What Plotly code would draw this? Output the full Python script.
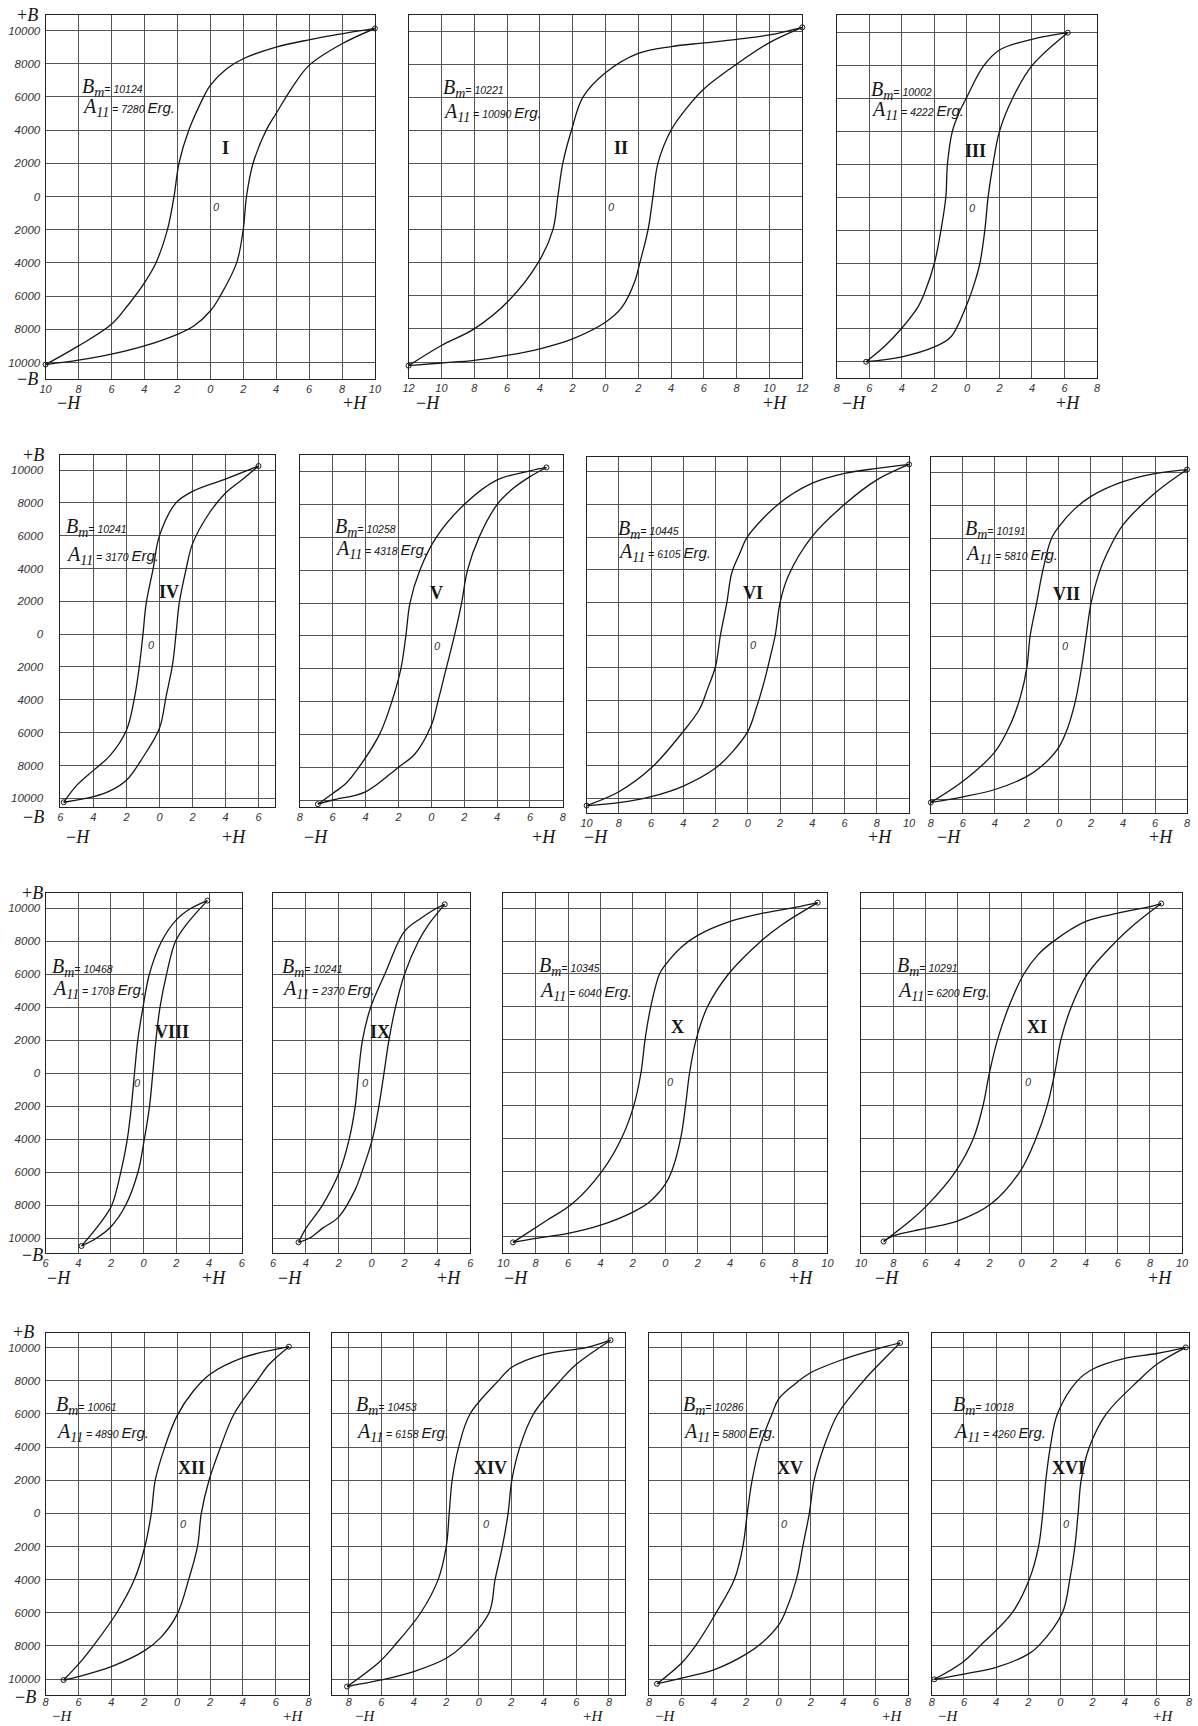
import plotly.graph_objects as go

W, HGT = 1198, 1726

# ---------------- data ----------------
PANEL_NAMES = ["I", "II", "III", "IV", "V", "VI", "VII", "VIII", "IX", "X", "XI", "XII", "XIV", "XV", "XVI"]
BM_VALUES = [10124, 10221, 10002, 10241, 10258, 10445, 10191, 10468, 10241, 10345, 10291, 10061, 10453, 10286, 10018]
A11_VALUES = [7280, 10090, 4222, 3170, 4318, 6105, 5810, 1703, 2370, 6040, 6200, 4890, 6158, 5800, 4260]
H_TICK_LIMITS = [10, 12, 8, 6, 8, 10, 8, 6, 6, 10, 10, 8, 8, 8, 8]
B_TICKS = [10000, 8000, 6000, 4000, 2000, 0, -2000, -4000, -6000, -8000, -10000]

I_UP_H = [10, 8, 6, 4, 2, 1, 0, -0.4, -1.3, -1.9, -2.2, -2.6, -3.3, -4, -5, -6, -8, -10]
I_UP_B = [10124, 9800, 9440, 9000, 8300, 7700, 6700, 6000, 4000, 2000, 0, -2000, -4000, -5200, -6550, -7700, -9000, -10124]
I_LO_H = [-10, -8, -6, -4, -2, -1, 0, 0.6, 1.6, 2.0, 2.2, 2.6, 3.4, 4, 5, 6, 8, 10]
I_LO_B = [-10124, -9860, -9500, -9000, -8300, -7800, -6900, -6000, -4000, -2000, 0, 2000, 4000, 5000, 6600, 7900, 9200, 10124]

II_UP_H = [12, 10, 8, 6, 4, 2, 0, -1.37, -2.07, -2.6, -2.9, -3.2, -4.1, -5.9, -8, -10, -12]
II_UP_B = [10221, 9760, 9500, 9280, 9060, 8650, 7480, 6000, 4000, 2000, 0, -2000, -4000, -6300, -8000, -9000, -10221]
II_LO_H = [-12, -10, -8, -6, -4, -2, 0, 1, 1.8, 2.1, 2.6, 2.9, 3.2, 4, 5, 6, 8, 10, 12]
II_LO_B = [-10221, -10060, -9900, -9600, -9200, -8600, -7600, -6700, -5100, -4000, -2000, 0, 2000, 4000, 5400, 6500, 8000, 9300, 10221]

III_UP_H = [6.2, 4, 2, 1, 0, -0.5, -0.9, -1.2, -1.3, -1.6, -2, -2.6, -3, -4, -5, -6.2]
III_UP_B = [10002, 9600, 8950, 7950, 6100, 5100, 4000, 2000, 0, -2000, -4000, -5800, -6650, -7950, -9000, -10002]
III_LO_H = [-6.2, -4, -2, -1, 0, 0.5, 0.8, 1.1, 1.3, 1.6, 2, 2.8, 4, 6.2]
III_LO_B = [-10002, -9700, -9100, -8500, -6500, -5100, -4000, -2000, 0, 2000, 4000, 6000, 8000, 10002]

IV_UP_H = [6, 4, 2, 1, 0, -0.4, -0.8, -1, -1.2, -1.5, -2, -3, -4, -5, -5.8]
IV_UP_B = [10241, 9450, 8700, 8000, 6000, 3900, 1900, 0, -1800, -3800, -5850, -7400, -8300, -9200, -10241]
IV_LO_H = [-5.8, -4, -3, -2, -1, 0, 0.4, 0.8, 1, 1.2, 1.6, 2, 3, 4, 5, 6]
IV_LO_B = [-10241, -9900, -9550, -8900, -7500, -5730, -3800, -1800, 0, 1900, 3900, 5500, 7350, 8600, 9400, 10241]

V_UP_H = [7, 6, 4, 2, 0.3, -0.7, -1.3, -1.55, -1.85, -2.4, -3.15, -4.4, -5.2, -6, -6.9]
V_UP_B = [10258, 10050, 9500, 8000, 6000, 4000, 2000, 0, -2000, -4000, -6000, -8000, -9000, -9600, -10258]
V_LO_H = [-6.9, -6, -4, -2, -1, 0, 0.4, 0.9, 1.4, 1.84, 2.2, 2.9, 4, 5, 6, 7]
V_LO_B = [-10258, -10000, -9500, -8000, -7200, -5450, -4000, -2000, 0, 2000, 4000, 6000, 8000, 9000, 9700, 10258]

VI_UP_H = [10, 8, 6, 4, 2, 0, -0.5, -1, -1.3, -1.7, -2, -2.5, -3, -4, -6, -8, -10]
VI_UP_B = [10445, 10200, 9900, 9300, 8100, 6050, 5000, 3800, 2000, 0, -1900, -3300, -4550, -5900, -8150, -9600, -10445]
VI_LO_H = [-10, -8, -6, -4, -2, -1, 0, 0.5, 1, 1.4, 1.7, 2, 2.5, 4, 6, 8, 10]
VI_LO_B = [-10445, -10270, -9900, -9250, -8150, -7200, -5900, -4550, -2900, -1300, 0, 2000, 3600, 6050, 8000, 9500, 10445]

VII_UP_H = [8, 6, 4, 2, 1, 0, -0.5, -1, -1.4, -1.8, -2, -2.4, -3, -4, -6, -8]
VII_UP_B = [10191, 9950, 9450, 8550, 7800, 6700, 5900, 4050, 2000, 0, -1900, -3700, -5350, -7100, -8900, -10191]
VII_LO_H = [-8, -6, -4, -2, -1, 0, 0.5, 1, 1.4, 1.7, 2, 2.5, 3, 4, 6, 8]
VII_LO_B = [-10191, -9850, -9400, -8600, -7900, -6800, -5750, -4100, -2000, 0, 2000, 3850, 5050, 6800, 8750, 10191]

VIII_UP_H = [3.9, 2.9, 2, 1.1, 0.35, -0.04, -0.36, -0.56, -0.75, -1.0, -1.4, -1.95, -2.6, -3.8]
VIII_UP_B = [10468, 10000, 9300, 8000, 6000, 4000, 2000, 0, -2000, -4000, -6000, -8000, -9000, -10468]
VIII_LO_H = [-3.8, -2.9, -2, -1.1, -0.35, 0.04, 0.36, 0.56, 0.75, 1.0, 1.4, 1.95, 2.6, 3.9]
VIII_LO_B = [-10468, -10000, -9300, -8000, -6000, -4000, -2000, 0, 2000, 4000, 6000, 8000, 9000, 10468]

IX_UP_H = [4.45, 3.95, 3, 2, 0.8, -0.06, -0.56, -0.8, -1.0, -1.37, -1.97, -3.0, -4.0, -4.45]
IX_UP_B = [10241, 10000, 9400, 8600, 6000, 4000, 2000, 0, -2000, -4000, -6000, -8000, -9400, -10241]
IX_LO_H = [-4.45, -3.8, -3, -2, -1, -0.6, 0.04, 0.44, 0.75, 1.05, 1.45, 2.0, 2.85, 3.45, 4.45]
IX_LO_B = [-10241, -10000, -9400, -8700, -7050, -6000, -4000, -2000, 0, 2000, 4000, 6000, 8000, 9000, 10241]

X_UP_H = [9.4, 8, 6, 4, 2, 1, 0, -0.36, -0.9, -1.25, -1.5, -1.94, -2.7, -3.9, -5.75, -7.3, -9.4]
X_UP_B = [10345, 10050, 9700, 9200, 8350, 7650, 6550, 6000, 4000, 2000, 0, -2000, -4000, -6000, -8000, -9000, -10345]
X_LO_H = [-9.4, -8, -6, -4, -2, -1, 0, 0.4, 0.95, 1.25, 1.5, 1.9, 2.6, 3.9, 5.9, 7.2, 9.4]
X_LO_B = [-10345, -10100, -9800, -9300, -8500, -7900, -6800, -6000, -4000, -2000, 0, 2000, 4000, 6000, 8000, 9000, 10345]

XI_UP_H = [8.7, 8, 6, 4, 2, 1, 0.14, -0.8, -1.5, -2.0, -2.4, -3.0, -4.1, -5.8, -6.9, -8.6]
XI_UP_B = [10291, 10100, 9700, 9200, 8000, 7150, 6000, 4000, 2000, 0, -2000, -4000, -6000, -8000, -9000, -10291]
XI_LO_H = [-8.6, -8, -6, -4, -1.9, -0.08, 0.9, 1.6, 2.07, 2.45, 3.1, 4.1, 5.9, 7.0, 8.7]
XI_LO_B = [-10291, -9950, -9500, -9050, -8000, -6000, -4000, -2000, 0, 2000, 4000, 6000, 8000, 9000, 10291]

XII_UP_H = [6.8, 6, 4, 2, 1, 0, -0.75, -1.33, -1.57, -1.96, -2.6, -3.67, -5.1, -5.9, -6.9]
XII_UP_B = [10061, 9900, 9400, 8400, 7400, 5900, 4000, 2000, 0, -2000, -4000, -6000, -8000, -9000, -10061]
XII_LO_H = [-6.9, -6, -4, -2, -1, 0, 0.7, 1.24, 1.47, 1.94, 2.64, 3.46, 4.86, 5.6, 6.8]
XII_LO_B = [-10061, -9850, -9250, -8300, -7500, -6100, -4000, -2000, 0, 2000, 4000, 6000, 8000, 9000, 10061]

XIV_UP_H = [8.1, 6.6, 4, 2, 1.2, -0.54, -1.24, -1.64, -1.82, -2.0, -2.5, -3.57, -5.2, -6.15, -8.1]
XIV_UP_B = [10453, 10000, 9600, 8800, 8000, 6000, 4000, 2000, 0, -2000, -4000, -6000, -8000, -9000, -10453]
XIV_LO_H = [-8.1, -6, -4, -2, -1.0, 0.63, 1.0, 1.45, 1.8, 2.03, 2.52, 3.36, 5.0, 6.0, 8.1]
XIV_LO_B = [-10453, -10060, -9550, -8750, -8000, -6000, -4000, -2000, 0, 2000, 4000, 6000, 8000, 9000, 10453]

XV_UP_H = [7.5, 6, 4, 2, 1, 0, -0.4, -1.17, -1.63, -1.93, -2.2, -2.73, -3.85, -5.13, -5.95, -7.5]
XV_UP_B = [10286, 9900, 9300, 8500, 7800, 6900, 6000, 4000, 2000, 0, -2000, -4000, -6000, -8000, -9000, -10286]
XV_LO_H = [-7.5, -6, -4, -2, -1, 0, 0.4, 1.1, 1.5, 1.9, 2.2, 2.8, 3.66, 5.25, 6.2, 7.5]
XV_LO_B = [-10286, -9950, -9450, -8500, -7800, -6750, -6000, -4000, -2000, 0, 2000, 4000, 6000, 8000, 9000, 10286]

XVI_UP_H = [7.8, 6, 4, 2, 1.05, -0.19, -0.63, -0.91, -1.1, -1.36, -1.94, -3.0, -5.0, -6.1, -7.85]
XVI_UP_B = [10018, 9650, 9350, 8700, 8000, 6000, 4000, 2000, 0, -2000, -4000, -6000, -8000, -9000, -10018]
XVI_LO_H = [-7.85, -6, -4, -2, -1.36, 0.12, 0.58, 0.9, 1.1, 1.29, 1.8, 2.85, 4.84, 6.0, 7.8]
XVI_LO_B = [-10018, -9700, -9300, -8500, -8000, -6000, -4000, -2000, 0, 2000, 4000, 6000, 8000, 9000, 10018]

CURVES = [
    (I_UP_H, I_UP_B, I_LO_H, I_LO_B), (II_UP_H, II_UP_B, II_LO_H, II_LO_B),
    (III_UP_H, III_UP_B, III_LO_H, III_LO_B), (IV_UP_H, IV_UP_B, IV_LO_H, IV_LO_B),
    (V_UP_H, V_UP_B, V_LO_H, V_LO_B), (VI_UP_H, VI_UP_B, VI_LO_H, VI_LO_B),
    (VII_UP_H, VII_UP_B, VII_LO_H, VII_LO_B), (VIII_UP_H, VIII_UP_B, VIII_LO_H, VIII_LO_B),
    (IX_UP_H, IX_UP_B, IX_LO_H, IX_LO_B), (X_UP_H, X_UP_B, X_LO_H, X_LO_B),
    (XI_UP_H, XI_UP_B, XI_LO_H, XI_LO_B), (XII_UP_H, XII_UP_B, XII_LO_H, XII_LO_B),
    (XIV_UP_H, XIV_UP_B, XIV_LO_H, XIV_LO_B), (XV_UP_H, XV_UP_B, XV_LO_H, XV_LO_B),
    (XVI_UP_H, XVI_UP_B, XVI_LO_H, XVI_LO_B),
]

# ---------------- layout (pixel geometry) ----------------
# left, right, top, bottom, y(+10000), y(-10000), xmin, xmax
GEOM = [
    (40, 373, 15, 379, 30.5, 362.5, -10, 10),
    (407, 805, 15, 378, 31, 362, -12, 12),
    (840, 1103, 15, 378, 32.7, 361.7, -8, 8),
    (55, 272, 455, 807, 470, 798.3, -6, 7),
    (297, 563, 455, 807, 471.7, 800, -8, 8),
    (587, 913, 456.7, 813, 471.7, 798.3, -10, 10),
    (935, 1194, 456.7, 813, 472.7, 799.3, -8, 8),
    (40, 238.3, 892.7, 1253, 908.3, 1238.3, -6, 6),
    (270, 469.3, 892.7, 1253, 908.3, 1238.3, -6, 6),
    (502.7, 830.4, 892.7, 1252.7, 908.3, 1236.7, -10, 10),
    (864.5, 1189, 892.7, 1252.7, 908.3, 1236.7, -10, 10),
    (40, 306, 1332.7, 1695, 1347.7, 1679, -8, 8),
    (330, 626, 1332.7, 1695, 1347.7, 1679, -9, 9),
    (650, 912, 1332.7, 1695, 1347.7, 1679, -8, 8),
    (936, 1196, 1332.7, 1695, 1347.7, 1679, -8, 8),
]
# text placement: Bm (H, B), A line B, roman (H, B), zero (H, B), -H frac, +H frac
TEXTPOS = [
    (-7.9, 6540, 5390, 0.9, 2920, 0.4, -630, 0.07, 0.94),
    (-10, 6550, 5100, 0.95, 2920, 0.35, -630, 0.05, 0.93),
    (-6.05, 6500, 5300, 0.5, 2800, 0.35, -630, 0.065, 0.89),
    (-5.8, 6470, 4820, 0.6, 2570, -0.5, -660, 0.08, 0.81),
    (-6, 6570, 5230, 0.3, 2600, 0.4, -600, 0.06, 0.93),
    (-8.2, 6450, 5050, 0.3, 2600, 0.35, -600, 0.03, 0.91),
    (-6, 6500, 5000, 0.45, 2600, 0.4, -600, 0.07, 0.90),
    (-5.7, 6440, 5050, 1.75, 2500, -0.35, -600, 0.07, 0.86),
    (-5.6, 6440, 5050, 0.5, 2500, -0.35, -600, 0.085, 0.89),
    (-7.9, 6440, 4950, 0.75, 2800, 0.35, -600, 0.04, 0.92),
    (-7.9, 6440, 4950, 0.95, 2800, 0.45, -600, 0.08, 0.93),
    (-7.5, 6540, 4910, 0.9, 2730, 0.4, -650, 0.064, 0.94),
    (-7.65, 6540, 4910, 0.7, 2730, 0.5, -650, 0.111, 0.889),
    (-6, 6540, 4910, 0.7, 2750, 0.35, -650, 0.0625, 0.938),
    (-6.8, 6540, 4910, 0.5, 2750, 0.4, -650, 0.0625, 0.90),
]
ROW_FIRST = {0: 2, 3: 14, 7: 2, 11: 2}   # panel index -> y tick label standoff
PLUS_B = [(22, 15), (28, 455), (27, 893), (18, 1332)]
MINUS_B = [(22, 379), (28, 817), (27, 1255), (20, 1697)]
# y pixel and vertical anchor of the -H / +H labels
H_LABEL_Y = [403, 403, 403, 837, 837, 837, 837, 1278, 1278, 1278, 1278, 1726, 1726, 1726, 1726]
H_LABEL_ANCHOR = ["middle"] * 11 + ["bottom"] * 4
H_LABEL_SIZE = [18, 18, 18, 18, 18, 18, 18, 18, 18, 18, 18, 15, 15, 15, 15]
X_STANDOFF = [0] * 11 + [-3] * 4

SERIF = "Liberation Serif"
SANS = "Liberation Sans"
INK = "#161616"
GRID = "#555555"

fig = go.Figure()
annotations = []

for k, (name, bm, a11, lim, curves, geom, tp, hy, ha, hs, xso) in enumerate(
        zip(PANEL_NAMES, BM_VALUES, A11_VALUES, H_TICK_LIMITS, CURVES, GEOM, TEXTPOS,
            H_LABEL_Y, H_LABEL_ANCHOR, H_LABEL_SIZE, X_STANDOFF)):
    n = k + 1
    suf = "" if n == 1 else str(n)
    xref, yref = "x" + suf, "y" + suf
    up_h, up_b, lo_h, lo_b = curves
    l, r, t, b, p10, pm10, x0, x1 = geom
    s = 20000.0 / (pm10 - p10)
    yrange = [-10000 - (b - pm10) * s, 10000 + (p10 - t) * s]

    for hh, bb in ((up_h, up_b), (lo_h, lo_b)):
        fig.add_trace(go.Scatter(x=hh, y=bb, mode="lines", xaxis=xref, yaxis=yref,
                                 line=dict(color=INK, width=1.3, shape="spline", smoothing=1.0),
                                 showlegend=False, hoverinfo="skip", cliponaxis=False))
    fig.add_trace(go.Scatter(x=[up_h[0], lo_h[0]], y=[up_b[0], lo_b[0]], mode="markers",
                             xaxis=xref, yaxis=yref, showlegend=False, hoverinfo="skip",
                             marker=dict(symbol="circle-open", size=5, color=INK, line=dict(width=1)),
                             cliponaxis=False))

    xt = list(range(-lim, lim + 1, 2))
    fig.layout["xaxis" + suf] = dict(
        domain=[l / W, r / W], range=[x0, x1], anchor=yref,
        tickmode="array", tickvals=xt, ticktext=[str(abs(v)) for v in xt],
        showgrid=True, gridcolor=GRID, gridwidth=0.9, zeroline=False,
        showline=True, linecolor="#222", linewidth=1.1, mirror=True, ticks="",
        tickfont=dict(family=SANS, size=11, color="#333", style="italic"),
        ticklabelstandoff=xso, ticklabeloverflow="allow",
    )
    ydict = dict(
        domain=[1 - b / HGT, 1 - t / HGT], range=yrange, anchor=xref,
        tickmode="array", tickvals=B_TICKS, ticktext=[str(abs(v)) for v in B_TICKS],
        showgrid=True, gridcolor=GRID, gridwidth=0.9, zeroline=False,
        showline=True, linecolor="#222", linewidth=1.1, mirror=True, ticks="",
        tickfont=dict(family=SANS, size=11.5, color="#333", style="italic"),
        showticklabels=k in ROW_FIRST, ticklabeloverflow="allow",
    )
    if k in ROW_FIRST:
        ydict["ticklabelstandoff"] = ROW_FIRST[k]
    fig.layout["yaxis" + suf] = ydict

    bm_h, bm_b, a_b, ro_h, ro_b, z_h, z_b, mfr, pfr = tp
    small = "font-family:%s;font-size:10.5px" % SANS
    annotations.append(dict(
        x=bm_h, y=bm_b, xref=xref, yref=yref, xanchor="left", yanchor="middle", showarrow=False,
        text="<i>B</i><sub><i>m</i></sub><span style='%s'><i>= %d</i></span>" % (small, bm),
        font=dict(family=SERIF, size=20, color=INK)))
    annotations.append(dict(
        x=bm_h, y=a_b, xref=xref, yref=yref, xanchor="left", yanchor="middle", showarrow=False,
        text=("<i>A</i><sub><i>11</i></sub><span style='%s'><i> = %d </i></span>"
              "<span style='font-family:%s;font-size:15px'><i>Erg.</i></span>") % (small, a11, SANS),
        font=dict(family=SERIF, size=20, color=INK)))
    annotations.append(dict(
        x=ro_h, y=ro_b, xref=xref, yref=yref, xanchor="center", yanchor="middle", showarrow=False,
        text="<b>%s</b>" % name, font=dict(family=SERIF, size=18, color=INK)))
    annotations.append(dict(
        x=z_h, y=z_b, xref=xref, yref=yref, xanchor="center", yanchor="middle", showarrow=False,
        text="<i>0</i>", font=dict(family=SANS, size=11, color="#333")))
    for frac, lab in ((mfr, "−<i>H</i>"), (pfr, "+<i>H</i>")):
        annotations.append(dict(
            x=(l + frac * (r - l)) / W, y=1 - hy / HGT, xref="paper", yref="paper",
            xanchor="center", yanchor=ha, showarrow=False, text=lab,
            font=dict(family=SERIF, size=hs, color=INK)))

for (px, py) in PLUS_B:
    annotations.append(dict(x=px / W, y=1 - py / HGT, xref="paper", yref="paper", showarrow=False,
                            xanchor="center", yanchor="middle", text="+<i>B</i>",
                            font=dict(family=SERIF, size=18, color=INK)))
for (px, py) in MINUS_B:
    annotations.append(dict(x=px / W, y=1 - py / HGT, xref="paper", yref="paper", showarrow=False,
                            xanchor="center", yanchor="middle", text="−<i>B</i>",
                            font=dict(family=SERIF, size=18, color=INK)))

fig.update_layout(width=W, height=HGT, margin=dict(l=0, r=0, t=0, b=0),
                  paper_bgcolor="white", plot_bgcolor="white",
                  annotations=annotations, showlegend=False)

# remove the default 8px page margin so the figure fills the window exactly
fig.write_html("out.html", config={"displayModeBar": False},
               post_script="document.body.style.margin='0';document.body.style.padding='0';")
